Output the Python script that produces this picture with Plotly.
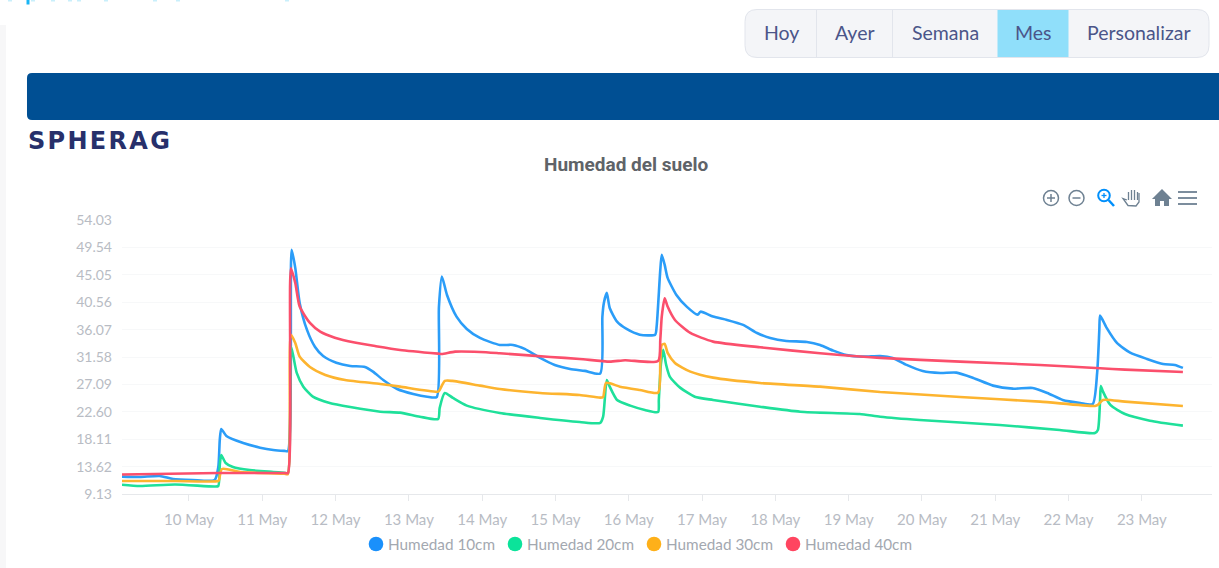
import pandas as pd
import plotly.graph_objects as go

# Fractional day of May 2021 and soil moisture readings
dias_10 = [9.086,9.33,9.60,9.78,10.05,10.35,10.40,10.42,10.44,10.51,10.74,10.97,11.15,11.30,11.35,11.40,11.45,11.51,11.61,11.72,11.83,12.01,12.20,12.40,12.51,12.65,12.84,13.06,13.25,13.38,13.41,13.45,13.52,13.65,13.79,13.97,14.24,14.42,14.58,14.79,14.99,15.20,15.40,15.61,15.64,15.66,15.70,15.74,15.84,15.97,16.15,16.36,16.38,16.43,16.45,16.49,16.53,16.65,16.79,16.94,16.98,17.15,17.34,17.56,17.75,17.93,18.15,18.43,18.61,18.79,18.97,19.20,19.43,19.60,19.79,20.01,20.25,20.47,20.70,20.97,21.24,21.51,21.71,21.92,22.16,22.33,22.39,22.42,22.43,22.52,22.66,22.84,23.07,23.29,23.45,23.56]
hum_10 = [11.97,11.92,12.08,11.59,11.43,11.43,13.56,17.98,19.79,18.64,17.49,16.72,16.34,16.20,16.18,49.13,46.18,40.44,36.02,33.23,31.75,30.65,30.11,29.95,29.18,27.82,26.34,25.52,25.08,25.03,39.79,44.75,41.75,38.20,36.18,34.70,33.56,33.56,32.90,31.43,30.28,29.62,29.31,28.88,38.20,40.44,42.08,39.62,37.38,36.18,35.24,35.24,36.56,45.85,48.31,46.67,44.54,41.75,39.84,38.52,39.01,38.20,37.65,36.84,35.52,34.70,34.21,34.05,33.56,32.62,31.92,31.64,31.75,31.43,30.28,29.29,28.97,29.02,28.15,26.89,26.39,26.51,25.69,24.54,24.05,23.88,28.97,36.02,38.36,36.34,33.88,32.29,31.26,30.44,30.28,29.79]

dias_20 = [9.086,9.33,9.81,10.35,10.40,10.42,10.44,10.50,10.60,10.83,11.15,11.30,11.35,11.39,11.42,11.47,11.56,11.69,11.92,12.20,12.61,12.88,13.15,13.40,13.42,13.49,13.60,13.79,14.24,14.79,15.33,15.61,15.65,15.70,15.74,15.84,16.02,16.22,16.40,16.41,16.44,16.47,16.51,16.56,16.70,16.90,17.15,17.79,18.34,19.15,19.43,19.97,21.06,21.88,22.36,22.40,22.43,22.44,22.47,22.57,22.77,23.11,23.56]
hum_20 = [10.65,10.44,10.69,10.36,10.44,13.88,15.52,14.21,13.56,13.06,12.74,12.60,12.57,33.28,31.90,28.97,26.72,25.08,24.05,23.39,22.62,22.46,21.80,21.43,23.23,25.69,24.87,23.61,22.41,21.59,20.93,20.77,21.80,27.82,26.72,24.54,23.61,22.90,22.57,24.54,30.61,32.74,30.28,28.36,26.56,25.08,24.54,23.44,22.62,22.24,21.80,21.26,20.44,19.62,19.13,19.62,24.54,26.84,25.90,23.72,22.24,21.15,20.33]

dias_30 = [9.086,9.81,10.40,10.41,10.45,10.70,11.30,11.35,11.39,11.45,11.51,11.65,11.86,12.13,12.61,12.88,13.40,13.42,13.49,13.59,13.97,14.24,14.79,15.33,15.61,15.65,15.69,15.88,16.15,16.40,16.43,16.45,16.49,16.53,16.63,16.84,17.15,17.79,18.61,19.43,20.52,21.61,22.36,22.40,22.47,22.77,23.56]
hum_30 = [11.26,11.26,11.26,11.43,13.23,12.74,12.45,12.41,35.20,33.88,31.64,29.95,28.64,27.82,27.16,26.72,25.90,26.18,27.66,27.66,26.89,26.34,25.69,25.36,24.92,25.03,27.33,26.72,26.18,25.74,30.61,33.56,33.72,32.25,30.61,29.18,28.20,27.33,26.72,25.85,25.03,24.26,23.56,23.72,24.54,24.26,23.56]

dias_40 = [9.086,10.40,11.30,11.35,11.39,11.45,11.51,11.65,11.79,11.99,12.26,12.55,12.88,13.40,13.45,13.63,13.97,14.24,14.93,15.33,15.74,15.95,16.40,16.43,16.45,16.49,16.53,16.63,16.84,17.15,17.79,18.61,19.43,20.52,21.61,22.43,22.77,23.56]
hum_40 = [12.33,12.57,12.57,12.57,46.13,43.72,39.84,37.16,35.74,34.75,33.95,33.35,32.74,32.13,32.08,32.46,32.41,32.20,31.59,31.26,30.82,31.05,30.93,34.38,38.20,41.21,39.84,37.65,35.52,34.10,33.18,32.20,31.43,30.82,30.28,29.74,29.51,29.13]

series_names = ["Humedad 10cm", "Humedad 20cm", "Humedad 30cm", "Humedad 40cm"]
y_ticks = [9.13, 13.62, 18.11, 22.60, 27.09, 31.58, 36.07, 40.56, 45.05, 49.54, 54.03]
botones = ["Hoy", "Ayer", "Semana", "Mes", "Personalizar"]

W, H = 1219, 568
L, R, T, B = 122, 7, 220, 74
PW, PH = W - L - R, H - T - B
LINE_COLORS = ["#2b9df8", "#1fe09a", "#fdb42f", "#fb4f6c"]
DOT_COLORS = ["#1a90fb", "#0be39a", "#feb019", "#ff4560"]
DOT_X = [376, 515, 654, 793]
FONT = "Lato"


def fx(px):
    return (px - L) / PW


def fy(py):
    return 1 - (py - T) / PH


def fecha(d):
    return (pd.Timestamp("2021-05-01") + pd.to_timedelta(d - 1, unit="D")).strftime("%Y-%m-%d %H:%M:%S")


def rr(x0, y0, x1, y1, rl=0, rr_=0):
    """Rounded rectangle path in page pixels, mapped to paper space."""
    p = lambda x, y: f"{fx(x):.5f},{fy(y):.5f}"
    s = f"M{p(x0 + rl, y0)} L{p(x1 - rr_, y0)} "
    if rr_:
        s += f"Q{p(x1, y0)} {p(x1, y0 + rr_)} L{p(x1, y1 - rr_)} Q{p(x1, y1)} {p(x1 - rr_, y1)} "
    else:
        s += f"L{p(x1, y1)} "
    s += f"L{p(x0 + rl, y1)} "
    if rl:
        s += f"Q{p(x0, y1)} {p(x0, y1 - rl)} L{p(x0, y0 + rl)} Q{p(x0, y0)} {p(x0 + rl, y0)} "
    else:
        s += f"L{p(x0, y0)} "
    return s + "Z"


shapes = []


def path(d, fill=None, line=None, w=1.5):
    shapes.append(dict(type="path", xref="paper", yref="paper", path=d,
                       fillcolor=fill or "rgba(0,0,0,0)",
                       line=dict(color=line or "rgba(0,0,0,0)", width=w if line else 0)))


def seg(x0, y0, x1, y1, color, w=1.5):
    shapes.append(dict(type="line", xref="paper", yref="paper", x0=fx(x0), y0=fy(y0),
                       x1=fx(x1), y1=fy(y1), line=dict(color=color, width=w)))


def circ(cx, cy, r, line, fill=None, w=1.5):
    shapes.append(dict(type="circle", xref="paper", yref="paper", x0=fx(cx - r), x1=fx(cx + r),
                       y0=fy(cy + r), y1=fy(cy - r), line=dict(color=line, width=w),
                       fillcolor=fill or "rgba(0,0,0,0)"))


# page furniture
path(rr(0, 25, 6, 568), fill="#f7f7f8")
path(rr(27, 73, 1219, 120, rl=5), fill="#004f93")
path(rr(745, 9.5, 1209, 57.5, rl=12, rr_=12), fill="#f4f5f8", line="#e2e5ec", w=1)
path(rr(997.5, 10, 1068.5, 57), fill="#90dffa")
seg(816.5, 10, 816.5, 57, "#e2e5ec", 1)
seg(892.5, 10, 892.5, 57, "#e2e5ec", 1)

# remnants of the cropped heading at the top edge
path(rr(26.5, 0, 29.5, 4.5), fill="#19b5f5")
for cx in (10, 33, 53, 70, 79, 106, 155, 178, 287):
    path(rr(cx - 2, 0, cx + 2, 1.5), fill="#c9effb")

# legend dots
for cx, color in zip(DOT_X, DOT_COLORS):
    circ(cx, 544, 7.3, color, color, 0)

# toolbar icons
GR = "#6e8192"
circ(1051, 198, 7.5, GR)
seg(1047, 198, 1055, 198, GR)
seg(1051, 194, 1051, 202, GR)
circ(1076.5, 198, 7.5, GR)
seg(1072.5, 198, 1080.5, 198, GR)
circ(1104, 195.5, 5.8, "#008ffb", w=2)
seg(1108.5, 200, 1114, 206, "#008ffb", 2.5)
seg(1101.5, 195.5, 1106.5, 195.5, "#008ffb", 1.3)
seg(1104, 193, 1104, 198, "#008ffb", 1.3)
for hx, top in [(1128.5, 192), (1131.5, 190), (1134.5, 190), (1137.5, 192)]:
    seg(hx, top, hx, 200, GR, 1.3)
p = lambda x, y: f"{fx(x):.5f},{fy(y):.5f}"
path(f"M{p(1127, 200)} L{p(1123, 198.5)} L{p(1128, 205.5)} L{p(1136, 206)} L{p(1139, 202)} L{p(1139, 193)}",
     line=GR, w=1.3)
path(f"M{p(1152, 199)} L{p(1162, 189)} L{p(1172, 199)} L{p(1169, 199)} L{p(1169, 206)} L{p(1164, 206)} "
     f"L{p(1164, 201)} L{p(1160, 201)} L{p(1160, 206)} L{p(1155, 206)} L{p(1155, 199)} Z", fill=GR)
for my in (192, 198, 204):
    seg(1178, my, 1197, my, GR, 1.8)

annotations = []


def txt(s, x, y, size, color, family=FONT, anchor="center", weight=None):
    annotations.append(dict(text=s, xref="paper", yref="paper", x=fx(x), y=fy(y), xanchor=anchor,
                            yanchor="middle", showarrow=False,
                            font=dict(size=size, color=color, family=family, weight=weight)))


for label, cx in zip(botones, [781, 855, 945, 1033, 1139]):
    txt(label, cx, 33, 19.5, "#4b5589")
txt('<span style="letter-spacing:2.3px">SPHERAG</span>', 26, 141, 24, "#27306b",
    family="DejaVu Sans", anchor="left", weight=700)
txt("Humedad del suelo", 625.5, 164, 19, "#5f6368", family="Roboto", weight=700)

fig = go.Figure()
for dias, hum, name, color in zip([dias_10, dias_20, dias_30, dias_40],
                                  [hum_10, hum_20, hum_30, hum_40], series_names, LINE_COLORS):
    fig.add_trace(go.Scatter(x=[fecha(d) for d in dias], y=hum, mode="lines", name=name,
                             line=dict(color=color, width=2.6, shape="spline", smoothing=0.6),
                             showlegend=False))

legend_ids = ["legend", "legend2", "legend3", "legend4"]
legend_layout = {}
for lid, name, cx in zip(legend_ids, series_names, DOT_X):
    fig.add_trace(go.Scatter(x=[None], y=[None], mode="markers", name=name, legend=lid,
                             marker=dict(color="rgba(0,0,0,0)", size=15, symbol="circle")))
    legend_layout[lid] = dict(x=fx(cx - 28), xanchor="left", y=fy(544), yanchor="middle",
                              itemwidth=30, itemclick=False, bgcolor="rgba(0,0,0,0)",
                              font=dict(size=15.3, color="#a3a8b0", family=FONT))

fig.update_layout(
    width=W, height=H, autosize=False,
    margin=dict(l=L, r=R, t=T, b=B, pad=0),
    paper_bgcolor="white", plot_bgcolor="white",
    font=dict(family=FONT, color="#b8bcc4", size=14),
    shapes=shapes, annotations=annotations,
    xaxis=dict(type="date", range=[fecha(9.086), fecha(23.957)], tick0="2021-05-10", dtick=86400000,
               tickformat="%d %b", showgrid=False, showline=True, linecolor="#e6e8eb", linewidth=1,
               ticks="outside", ticklen=6, tickcolor="#e6e8eb", ticklabelstandoff=6,
               tickfont=dict(size=15, color="#b8bcc4", family=FONT), zeroline=False),
    yaxis=dict(range=[9.13, 54.03], tickmode="array", tickvals=y_ticks,
               ticktext=[f"{v:.2f}" for v in y_ticks], showgrid=True, gridcolor="#f7f8f9", gridwidth=1,
               showline=False, zeroline=False, ticks="", ticklabelstandoff=9,
               tickfont=dict(size=14, color="#b8bcc4", family=FONT)),
    **legend_layout,
)

fig.write_html("out.html", config=dict(displayModeBar=False),
               post_script="document.body.style.margin='0';")
